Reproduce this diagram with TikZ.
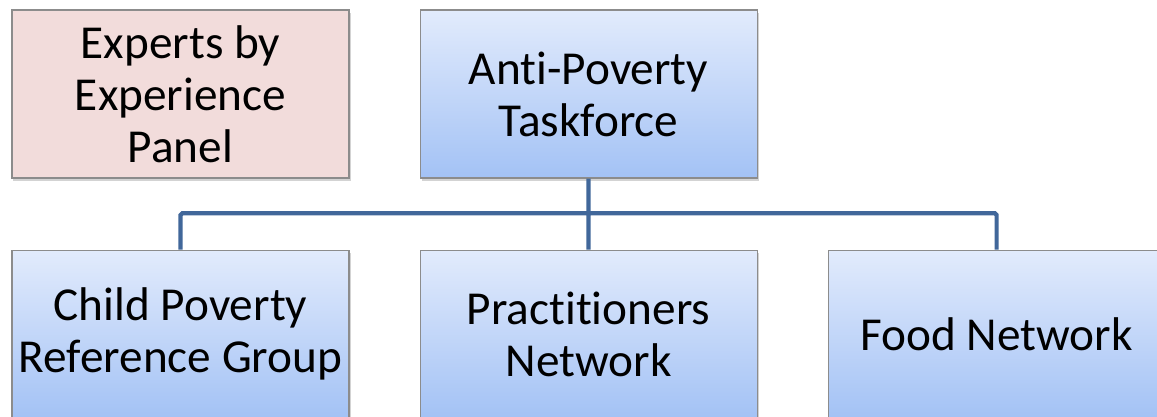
\documentclass[tikz,border=0pt]{standalone}
\usepackage{fontspec}
\setmainfont{Carlito}[Ligatures=NoCommon]
\usetikzlibrary{calc,positioning,shadows}
\definecolor{boxtop}{RGB}{226,235,252}
\definecolor{boxbot}{RGB}{163,194,245}
\definecolor{panelpink}{RGB}{242,220,219}
\definecolor{linkblue}{RGB}{65,103,154}
\definecolor{rimgray}{RGB}{140,140,140}

\begin{document}
\begin{tikzpicture}
[node distance=1.4cm, font=\fontsize{26.9}{29.5}\selectfont]
\tikzstyle{unit}=[rectangle, draw=rimgray, line width=0.6pt, minimum width=6.74cm, minimum height=3.36cm, align=center, inner sep=0pt, drop shadow={opacity=0.35, shadow xshift=0.03cm, shadow yshift=-0.05cm}]
\tikzstyle{task}=[unit, top color=boxtop, bottom color=boxbot]
\tikzstyle{panel}=[unit, fill=panelpink]
\tikzstyle{link}=[draw=linkblue, line width=2.4pt, rounded corners=1pt]

\useasboundingbox (0,0) rectangle (23.14,-8.34);

\node[panel] (experts) at (3.61,-1.88) {Experts by\\Experience\\Panel};
\node[task] (taskforce) [right=of experts] {Anti-Poverty\\Taskforce};
\node[task] (practitioners) [below=1.42cm of taskforce] {Practitioners\\Network};
\node[task] (childpov) [left=of practitioners] {Child Poverty\\Reference Group};
\node[task] (food) [right=of practitioners] {Food Network};

\coordinate (bus) at ($(taskforce.south)!0.49!(practitioners.north)$);

\path[link]
	(taskforce.south) -- (bus)
	(bus) -- (practitioners.north)
	(bus) -| (childpov.north)
	(bus) -| (food.north)
	;
\end{tikzpicture}
\end{document}
